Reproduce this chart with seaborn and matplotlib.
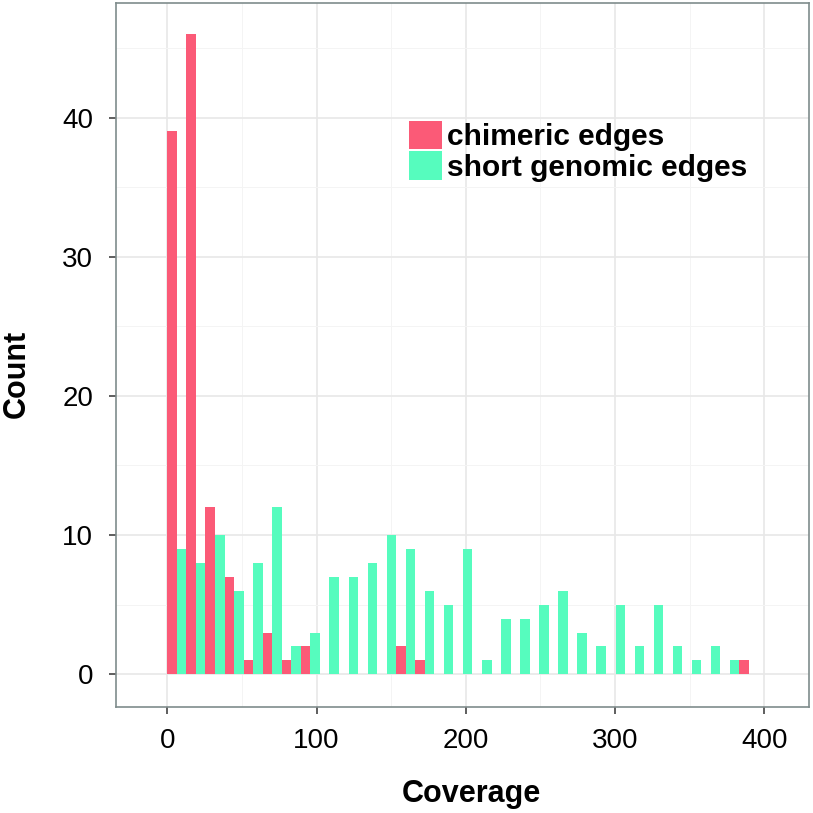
import numpy as np
import pandas as pd
import matplotlib
matplotlib.use("Agg")
import matplotlib.pyplot as plt
import seaborn as sns

# ---- data ----
bin_width = 12.78
n_bins = 31
chimeric_counts = [39, 46, 12, 7, 1, 3, 1, 2, 0, 0, 0, 0, 2, 1, 0, 0,
                   0, 0, 0, 0, 0, 0, 0, 0, 0, 0, 0, 0, 0, 0, 1]
genomic_counts = [9, 8, 10, 6, 8, 12, 2, 3, 7, 7, 8, 10, 9, 6, 5, 9,
                  1, 4, 4, 5, 6, 3, 2, 5, 2, 5, 2, 1, 2, 1, 0]
labels = ["chimeric edges", "short genomic edges"]
colors = ["#FB5A77", "#56FCBE"]
x_ticks = [0, 100, 200, 300, 400]
y_ticks = [0, 10, 20, 30, 40]

edges = [float(i * bin_width) for i in range(n_bins + 1)]
centers = [e + bin_width / 2 for e in edges[:-1]]

df = pd.DataFrame({
    "Coverage": centers + centers,
    "n": chimeric_counts + genomic_counts,
    "type": [labels[0]] * n_bins + [labels[1]] * n_bins,
})

sns.set_style("white")
plt.rcParams["font.family"] = ["Liberation Sans", "DejaVu Sans"]
plt.rcParams["text.color"] = "black"
plt.rcParams["axes.labelcolor"] = "black"

W = H = 813
fig = plt.figure(figsize=(W / 100, H / 100), dpi=100)
ax_left, ax_right, ax_top, ax_bottom = 116, 809, 2.7, 706.7
ax = fig.add_axes([ax_left / W, 1 - ax_bottom / H,
                   (ax_right - ax_left) / W, (ax_bottom - ax_top) / H])

sns.histplot(data=df, x="Coverage", weights="n", hue="type",
             hue_order=labels, palette=colors, bins=edges,
             multiple="dodge", shrink=1, alpha=1, linewidth=0,
             edgecolor="none", ax=ax, zorder=3)

ax.set_xlim(-34.4, 430)
ax.set_ylim(-2.33, 48.25)
ax.set_xticks(x_ticks)
ax.set_yticks(y_ticks)
ax.set_xticks([50, 150, 250, 350], minor=True)
ax.set_yticks([5, 15, 25, 35, 45], minor=True)
ax.set_xticklabels([str(v) for v in x_ticks])
ax.set_yticklabels([str(v) for v in y_ticks])

ax.grid(True, which="major", color="#E8E8E8", linewidth=1.2, zorder=0)
ax.grid(True, which="minor", color="#F4F4F4", linewidth=0.7, zorder=0)
ax.set_axisbelow(True)

for s in ax.spines.values():
    s.set_visible(True)
    s.set_color("#7F8C8C")
    s.set_linewidth(1.2)

ax.tick_params(axis="both", which="major", length=5, width=1.1,
               color="#333333", labelsize=20, labelcolor="black",
               direction="out", bottom=True, left=True)
ax.tick_params(axis="x", which="major", pad=10)
ax.tick_params(axis="y", which="major", pad=11.5)
ax.tick_params(axis="both", which="minor", length=0)

ax.set_xlabel("Coverage", fontsize=22, fontweight="bold", color="black")
ax.set_ylabel("Count", fontsize=22, fontweight="bold", color="black")
ax.xaxis.set_label_coords((471 - ax_left) / (ax_right - ax_left),
                          (ax_bottom - 779) / (ax_bottom - ax_top))
ax.yaxis.set_label_coords((31.5 - ax_left) / (ax_right - ax_left),
                          (ax_bottom - 374) / (ax_bottom - ax_top))

leg_size = 21.5
fs_px = leg_size * 100 / 72
sns.move_legend(ax, loc="upper left",
                bbox_to_anchor=(409 / W, 1 - 120.7 / H),
                bbox_transform=fig.transFigure,
                title=None, frameon=False, borderpad=0, borderaxespad=0,
                handlelength=33 / fs_px, handleheight=33 / fs_px,
                handletextpad=5 / fs_px, labelspacing=0,
                prop={"size": leg_size, "weight": "bold"})
for t in ax.get_legend().get_texts():
    t.set_color("black")

fig.savefig("out.png", dpi=100)
